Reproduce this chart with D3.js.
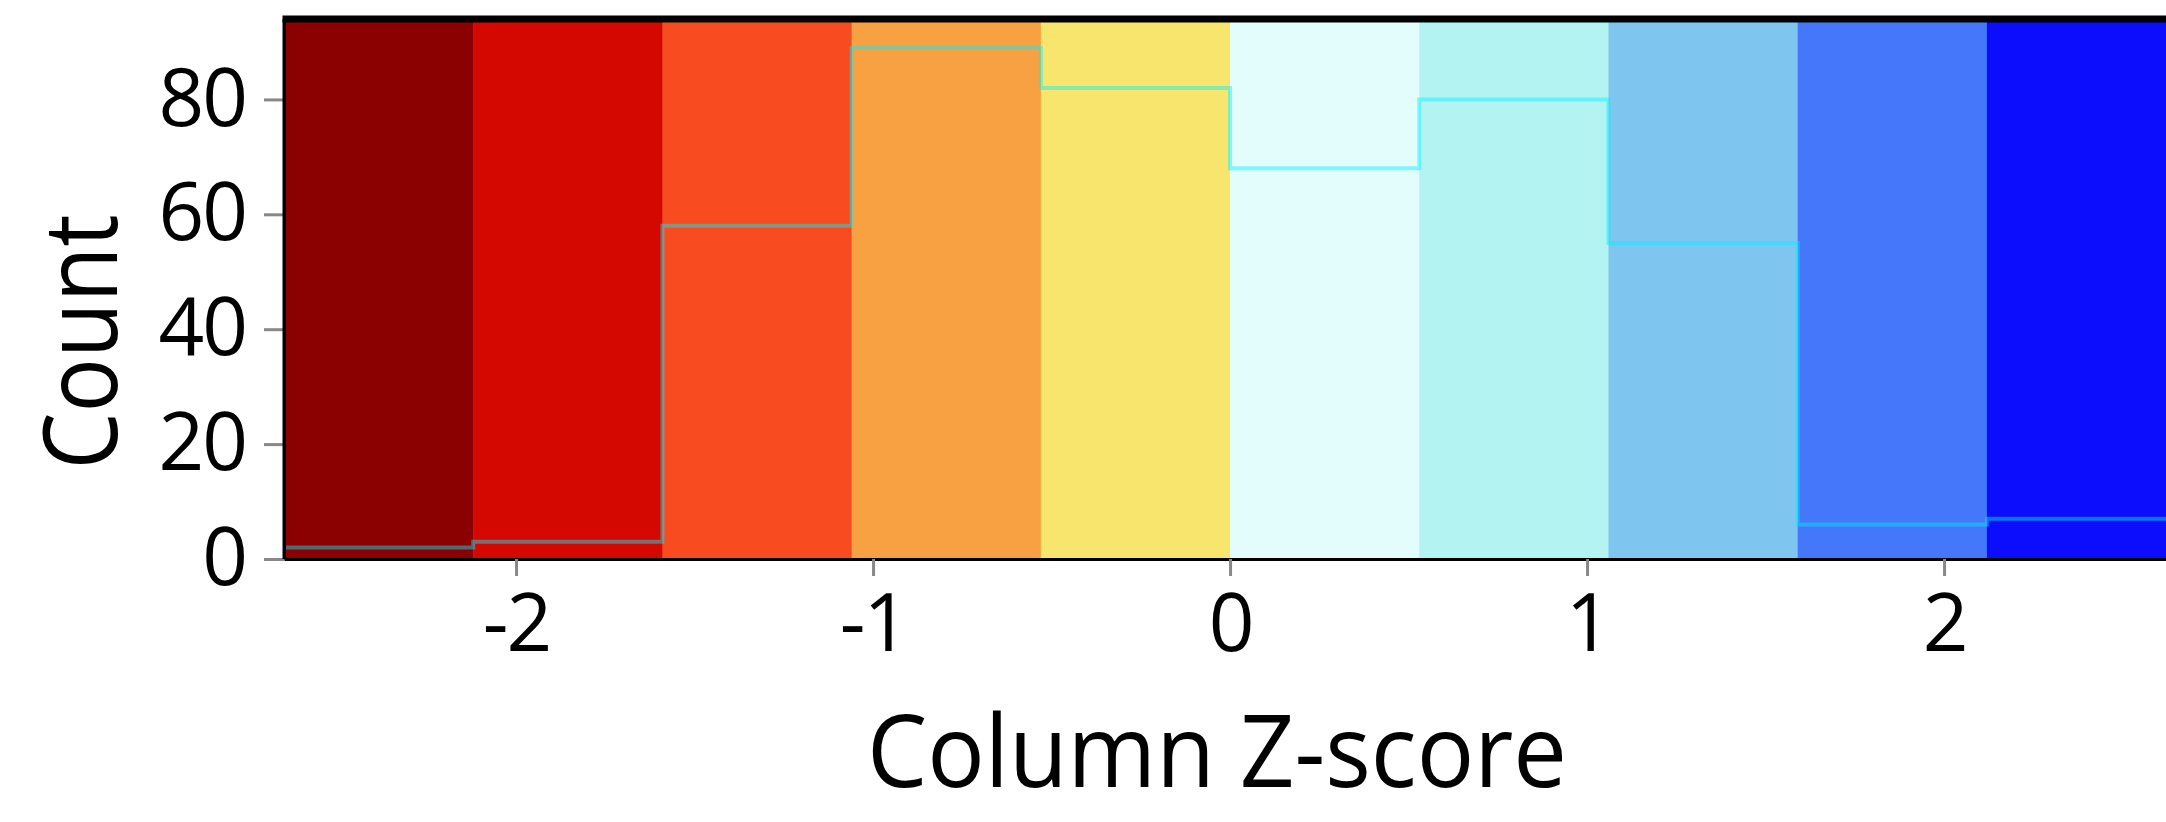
<!DOCTYPE html>
<html>
<head>
<meta charset="utf-8">
<script src="https://cdn.jsdelivr.net/npm/d3@7"></script>
<style>
  body { margin: 0; background: #fff; }
  text { font-family: "Open Sans", sans-serif; fill: #000; }
</style>
</head>
<body>
<script>
// colour key of a heatmap: z-score bins and the histogram of counts
var breaks = [-2.65, -2.12, -1.59, -1.06, -0.53, 0, 0.53, 1.06, 1.59, 2.12, 2.65];
var counts = [2, 3, 58, 89, 82, 68, 80, 55, 6, 7];
var binColors = ["#8b0000", "#d50800", "#f84b1f", "#f8a142", "#f8e56d",
                 "#e2fdfb", "#b3f4f2", "#7ec6f0", "#4477fa", "#0b0dfc"];
var xTicks = [-2, -1, 0, 1, 2];
var yTicks = [0, 20, 40, 60, 80];

var w = 2166;
var h = 822;
var padLeft = 284, padTop = 19, padBottom = 559;

var svg = d3.select("body").append("svg")
  .attr("width", w)
  .attr("height", h);

var x = d3.scaleLinear().domain([-2.65, 2.65]).range([padLeft, padLeft + 357 * 5.3]);
var y = d3.scaleLinear().domain([0, 94]).range([padBottom, padTop]);

// coloured bins
svg.selectAll("rect.bin")
  .data(binColors)
  .enter()
  .append("rect")
  .attr("class", "bin")
  .attr("x", function(d, i) { return x(breaks[i]); })
  .attr("width", function(d, i) { return x(breaks[i + 1]) - x(breaks[i]) + 0.5; })
  .attr("y", y(94))
  .attr("height", y(0) - y(94))
  .attr("fill", function(d) { return d; });

// histogram as a step line
var pts = counts.map(function(c, i) { return [breaks[i], c]; });
pts.push([breaks[breaks.length - 1], counts[counts.length - 1]]);
var line = d3.line()
  .x(function(d) { return x(d[0]); })
  .y(function(d) { return y(d[1]); })
  .curve(d3.curveStepAfter);
svg.append("path")
  .datum(pts)
  .attr("d", line)
  .attr("fill", "none")
  .attr("stroke", "#00f0ff")
  .attr("stroke-opacity", 0.45)
  .attr("stroke-width", 4);

// axes
var yAxis = svg.append("g")
  .attr("transform", "translate(" + padLeft + ",0)")
  .call(d3.axisLeft(y).tickValues(yTicks).tickSize(20).tickPadding(18).tickSizeOuter(0));
var xAxis = svg.append("g")
  .attr("transform", "translate(0," + padBottom + ")")
  .call(d3.axisBottom(x).tickValues(xTicks).tickSize(17).tickPadding(18).tickSizeOuter(0)
    .tickFormat(function(d) { return String(d); }));

[xAxis, yAxis].forEach(function(g) {
  g.select(".domain").attr("stroke", "#000").attr("stroke-width", 3);
  g.selectAll(".tick line").attr("stroke", "#888").attr("stroke-width", 3);
  g.selectAll(".tick text")
    .attr("font-family", "Open Sans")
    .attr("font-size", 80)
    .attr("letter-spacing", -2)
    .attr("fill", "#000");
});

// frame: thick top line, left edge
svg.append("line")
  .attr("x1", padLeft - 1.5).attr("x2", w)
  .attr("y1", padTop).attr("y2", padTop)
  .attr("stroke", "#000").attr("stroke-width", 7);
svg.append("line")
  .attr("x1", padLeft).attr("x2", padLeft)
  .attr("y1", padTop).attr("y2", padBottom)
  .attr("stroke", "#000").attr("stroke-width", 3);

// axis titles (narrower than Open Sans in the original, so squeeze a bit)
svg.append("text")
  .attr("transform", "translate(117,342) rotate(-90)")
  .attr("text-anchor", "middle")
  .attr("font-size", 102)
  .attr("textLength", 255)
  .attr("lengthAdjust", "spacingAndGlyphs")
  .text("Count");
svg.append("text")
  .attr("x", 1217)
  .attr("y", 787)
  .attr("text-anchor", "middle")
  .attr("font-size", 100)
  .attr("textLength", 700)
  .attr("lengthAdjust", "spacingAndGlyphs")
  .text("Column Z-score");
</script>
</body>
</html>
